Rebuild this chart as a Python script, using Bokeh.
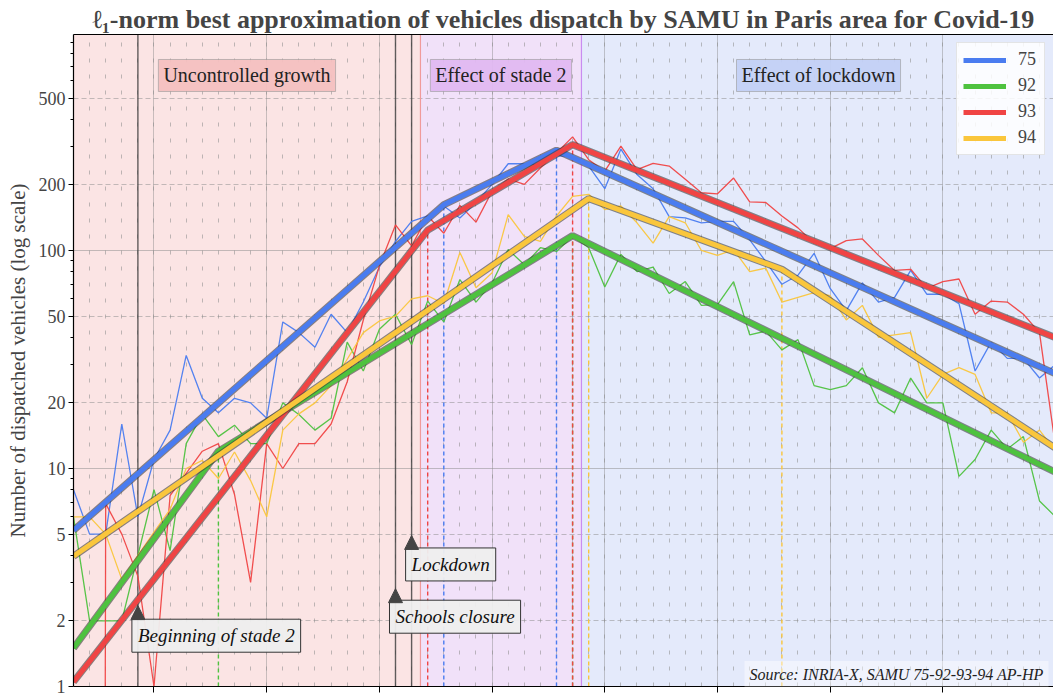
import numpy as np
from bokeh.plotting import figure
from bokeh.models import (FixedTicker, Grid, Span, BoxAnnotation, Label, Legend, LegendItem,
                          LinearAxis, NumeralTickFormatter, Arrow, NormalHead, Range1d)
from bokeh.embed import file_html
from bokeh.resources import INLINE

# ---------------- data ----------------
days = list(range(62))

raw_75 = [8, 5, 5, 16, 6, 11, 15, 33, 21, 18, 21, 20, 17, 47, 42, 36, 51, 42, 58, 84,
          110, 136, 144, 160, 141, 166, 201, 250, 250, 247, 272, 270, 244, 192, 292, 223, 192, 143, 141, 134,
          136, 136, 112, 89, 70, 77, 97, 67, 53, 71, 58, 61, 81, 63, 63, 57, 28, 38, 32, 32, 26, 30]
raw_92 = [6, 2, 2, 2, 4, 8, 4.2, 13, 17.7, 14, 15.8, 13, 13, 20, 17.7, 15, 17, 38, 28, 43.5,
          51, 37, 58.6, 47, 73.6, 58, 71, 101, 86, 103, 99, 116, 103, 68, 96, 80, 84, 63.5, 72, 56,
          56.5, 72, 41, 42.7, 35, 39, 24, 23, 24, 29, 20, 18, 26, 20, 20, 9.2, 11, 15, 12.3, 14, 7.1, 6]
raw_93 = [0, 0, 6.9, 5, 3.2, 1, 7.5, 9.5, 12, 13, 7.6, 3, 13, 10, 13, 13, 16, 25, 48, 85,
          131, 105, 144, 120, 161, 135, 187, 213, 201, 239, 280, 332, 261, 231, 301, 235, 251, 244, 212, 184,
          182, 215, 167, 166, 144, 127, 108, 102, 111, 113, 95, 81, 82, 67, 72, 74, 51, 58.6, 58, 51, 42, 12.5]
raw_94 = [6, 6, 5, 3.1, 4, 5.1, 6.5, 10, 10.9, 9, 11.9, 8.8, 6, 15, 17.8, 20, 24, 31.7, 42, 47.5,
          50, 60, 62, 57, 98, 67.5, 79, 146, 116, 110, 144, 177, 181, 154, 160, 134, 108, 143, 134, 100,
          95, 101, 80, 83, 58, 61, 64, 62, 48, 56, 40, 41, 42, 21, 27, 29, 27, 18, 18, 13.2, 15, 12]

# l1 piecewise-linear (in log) best approximation: knots
fit_days_75 = [0, 23, 30, 61]
fit_vals_75 = [5.2, 162, 288, 27.2]
fit_days_92 = [0, 9, 31, 61]
fit_vals_92 = [1.5, 12.0, 117, 9.6]
fit_days_93 = [0, 22, 31, 61]
fit_vals_93 = [1.05, 124, 306, 39.8]
fit_days_94 = [0, 32, 44, 61]
fit_vals_94 = [3.96, 173, 82, 12.4]

departments = ["75", "92", "93", "94"]
series_colors = ["#4a7cf0", "#4ec23f", "#f04444", "#fac63c"]

phase_bounds = [0, 21.55, 31.55, 61]
phase_names = ["Uncontrolled growth", "Effect of stade 2", "Effect of lockdown"]
phase_fill = ["#fbe4e4", "#f1e1f9", "#e4eafb"]
phase_box = ["#f4c0c0", "#e0b8f1", "#c3d1f6"]
phase_line = ["#f09a9a", "#c98cf0"]

event_days = [4, 20, 21]
event_names = ["Beginning of stade 2", "Schools closure", "Lockdown"]
event_tip_y = [2.35, 2.81, 4.93]
event_text_y = [1.71, 2.09, 3.63]

y_ticks = [1, 2, 5, 10, 20, 50, 100, 200, 500]
week_ticks = list(range(5, 61, 7))

raws = [raw_75, raw_92, raw_93, raw_94]
fits = [(fit_days_75, fit_vals_75), (fit_days_92, fit_vals_92),
        (fit_days_93, fit_vals_93), (fit_days_94, fit_vals_94)]

FONT = "Liberation Serif"
X_END = 60.87
Y_START, Y_END = 1, 979

p = figure(width=1053, height=696, x_range=Range1d(0, X_END), y_range=Range1d(Y_START, Y_END),
           y_axis_type="log", output_backend="svg", toolbar_location=None,
           title="\u2113\u2081-norm best approximation of vehicles dispatch by SAMU in Paris area for Covid-19")
p.min_border_left = 73
p.min_border_right = 0
p.min_border_top = 34
p.min_border_bottom = 10
p.outline_line_color = None
p.background_fill_color = "white"

p.title.text_font = FONT
p.title.text_font_style = "bold"
p.title.text_font_size = "26px"
p.title.align = "center"
p.title.standoff = 2

# phase backgrounds
for i, name in enumerate(phase_names):
    p.add_layout(BoxAnnotation(left=phase_bounds[i], right=phase_bounds[i + 1],
                               fill_color=phase_fill[i], fill_alpha=1.0, line_color=None, level="image"))

# grids
p.xgrid.ticker = FixedTicker(ticks=week_ticks, minor_ticks=days)
p.xgrid.grid_line_color = "#8a8a8a"
p.xgrid.grid_line_alpha = 0.45
p.xgrid.grid_line_width = 1
p.xgrid.minor_grid_line_color = "#8a8a8a"
p.xgrid.minor_grid_line_alpha = 0.55
p.xgrid.minor_grid_line_dash = "4 12"
p.xgrid.minor_grid_line_width = 1

p.ygrid.ticker = FixedTicker(ticks=[10, 100])
p.ygrid.grid_line_color = "#8a8a8a"
p.ygrid.grid_line_alpha = 0.5
p.ygrid.grid_line_width = 1
ygrid2 = Grid(dimension=1, ticker=FixedTicker(ticks=[2, 5, 20, 50, 200, 500]),
              grid_line_color="#8a8a8a", grid_line_alpha=0.5, grid_line_dash="5 3", grid_line_width=1)
p.add_layout(ygrid2)

# phase boundary lines
for b, c in zip(phase_bounds[1:3], phase_line):
    p.add_layout(Span(location=b, dimension="height", line_color=c, line_width=1.2, level="underlay"))

# event lines
for d in event_days:
    p.add_layout(Span(location=d, dimension="height", line_color="#3a3a3a", line_width=1.4,
                      line_alpha=0.8, level="underlay"))

# breakpoint dashed lines
for (fd, fv), col in zip(fits, series_colors):
    kd = fd[1:-1]
    kv = fv[1:-1]
    p.segment(x0=kd, y0=[Y_START] * len(kd), x1=kd, y1=kv, line_color=col, line_width=1.4,
              line_dash="4 3")

# raw data (zero counts clipped like a log axis does)
for r, col in zip(raws, series_colors):
    yv = [v if v > 0 else 1e-30 for v in r]
    p.line(days, yv, line_color=col, line_width=1.3, line_alpha=0.95)

# fits
fit_renderers = []
for (fd, fv), col in zip(fits, series_colors):
    p.line(fd, fv, line_color="#3c3c3c", line_width=7.2, line_alpha=0.6)
    fit_renderers.append(p.line(fd, fv, line_color=col, line_width=5))

# axes
yax = p.yaxis[0]
yax.ticker = FixedTicker(ticks=y_ticks,
                         minor_ticks=[3, 4, 6, 7, 8, 9, 30, 40, 60, 70, 80, 90, 300, 400, 600, 700, 800, 900])
yax.formatter = NumeralTickFormatter(format="0")
yax.axis_label = "Number of dispatched vehicles (log scale)"
yax.axis_label_text_font = FONT
yax.axis_label_text_font_style = "normal"
yax.axis_label_text_font_size = "21px"
yax.axis_label_standoff = 6
yax.major_label_text_font = FONT
yax.major_label_text_font_size = "18px"
yax.major_label_standoff = 3
yax.axis_line_color = "black"
yax.axis_line_width = 1.2
yax.major_tick_in = 0
yax.major_tick_out = 5
yax.minor_tick_in = 0
yax.minor_tick_out = 3
yax.major_tick_line_color = "black"
yax.minor_tick_line_color = "black"

# bottom axis: week ticks without labels (drawn as minor ticks)
xax = p.xaxis[0]
xax.ticker = FixedTicker(ticks=[], minor_ticks=week_ticks)
xax.major_tick_line_color = None
xax.minor_tick_in = 0
xax.minor_tick_out = 6
xax.minor_tick_line_color = "black"
xax.minor_tick_line_width = 1
xax.axis_line_color = "black"
xax.axis_line_width = 1.2

top_axis = LinearAxis(ticker=FixedTicker(ticks=[]), major_tick_line_color=None,
                      minor_tick_line_color=None, axis_line_color="black", axis_line_width=1.2)
p.add_layout(top_axis, "above")

# phase labels
for i, name in enumerate(phase_names):
    cx = (phase_bounds[i] + phase_bounds[i + 1]) / 2
    p.add_layout(Label(x=cx, y=635, text=name, text_align="center", text_baseline="middle",
                       text_font=FONT, text_font_size="20px", text_color="#222222",
                       background_fill_color=phase_box[i], background_fill_alpha=0.95,
                       border_line_color="#999999", border_line_alpha=0.6, padding=5))

# event annotations
for d, name, ty, tt in zip(event_days, event_names, event_tip_y, event_text_y):
    p.add_layout(Label(x=d, y=tt, text=name, text_align="left", text_baseline="middle",
                       text_font=FONT, text_font_style="italic", text_font_size="19px",
                       text_color="#111111", background_fill_color="#eeeeee",
                       background_fill_alpha=0.95, border_line_color="#333333",
                       border_line_width=1, padding=6, x_offset=-6))
    p.add_layout(Arrow(x_start=d, y_start=tt, x_end=d, y_end=ty, line_alpha=0,
                       end=NormalHead(size=14, fill_color="#444444", line_color="#444444")))

# source
p.add_layout(Label(x=X_END, y=Y_START, x_offset=-5, y_offset=12,
                   text="Source: INRIA-X, SAMU 75-92-93-94 AP-HP", text_align="right",
                   text_baseline="middle", text_font=FONT, text_font_style="italic",
                   text_font_size="16px", text_color="#222222", background_fill_color="white",
                   background_fill_alpha=0.45, padding=5))

legend = Legend(items=[LegendItem(label=d, renderers=[r]) for d, r in zip(departments, fit_renderers)],
                location="top_right")
legend.label_text_font = FONT
legend.label_text_font_size = "18px"
legend.glyph_width = 43
legend.glyph_height = 20
legend.label_height = 20
legend.spacing = 5
legend.padding = 6
legend.label_standoff = 12
legend.margin = 8
legend.border_line_color = "#cccccc"
legend.background_fill_alpha = 0.85
p.add_layout(legend)

open("out.html", "w").write(file_html(p, INLINE))
